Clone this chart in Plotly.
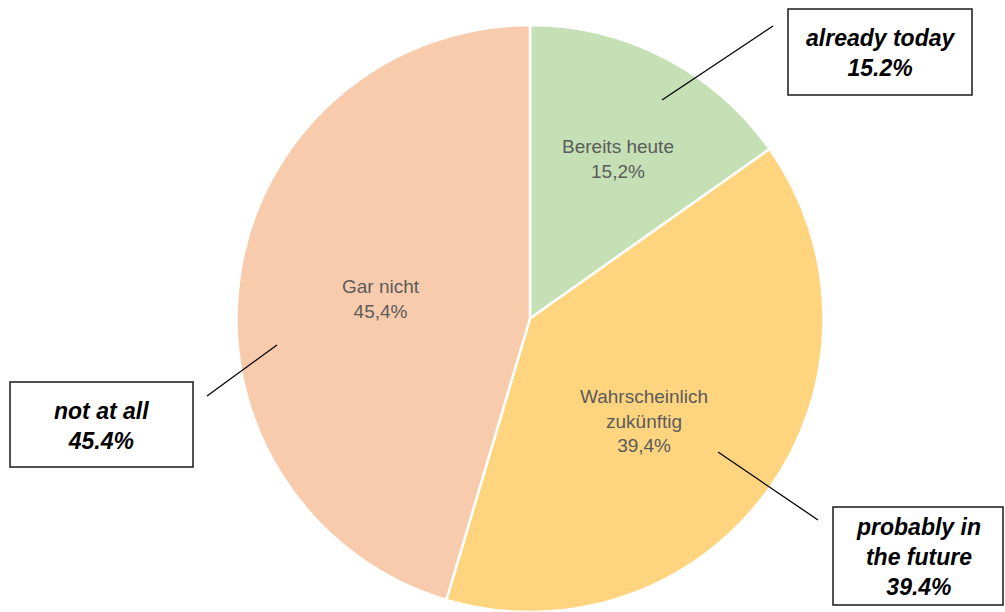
import plotly.graph_objects as go

# Survey shares (percent), clockwise from 12 o'clock
labels_de = ["Bereits heute", "Wahrscheinlich<br>zukünftig", "Gar nicht"]
labels_en = ["already today", "probably in<br>the future", "not at all"]
values = [15.2, 39.4, 45.4]
colors = ["#C5E0B4", "#FFD47E", "#F8CBAD"]

W, H = 1005, 612


def px(x):
    return x / W


def py(y):
    return 1 - y / H


fig = go.Figure()
fig.add_trace(go.Pie(
    labels=[l.replace("<br>", " ") for l in labels_de],
    values=values,
    sort=False,
    direction="clockwise",
    rotation=0,
    marker=dict(colors=colors, line=dict(color="white", width=2.5)),
    textinfo="none",
    hoverinfo="none",
    showlegend=False,
    domain=dict(x=[px(530 - 294), px(530 + 294)], y=[0, py(25)]),
))

# German labels inside the slices
inner_pos = [(618, 159), (644, 421), (381, 299)]
for lab, v, (x, y) in zip(labels_de, values, inner_pos):
    fig.add_annotation(
        x=px(x), y=py(y), xref="paper", yref="paper",
        text=f"{lab}<br>{v:.1f}%".replace(".", ","),
        showarrow=False, xanchor="center", yanchor="middle",
        font=dict(family="Arial, Liberation Sans, sans-serif", size=19, color="#5B5B5B"),
    )

# English callout boxes with leader lines
boxes = [(788, 9, 972, 95), (833, 507, 1003, 605), (10, 382, 193, 467)]
leaders = [((662, 100), (773, 26)), ((718, 452), (818, 520)), ((277, 345), (207, 396))]
shapes = []
for lab, v, (x0, y0, x1, y1), ((lx0, ly0), (lx1, ly1)) in zip(labels_en, values, boxes, leaders):
    shapes.append(dict(type="rect", xref="paper", yref="paper",
                       x0=px(x0), x1=px(x1), y0=py(y1), y1=py(y0),
                       line=dict(color="#1A1A1A", width=1.5), fillcolor="white"))
    shapes.append(dict(type="line", xref="paper", yref="paper",
                       x0=px(lx0), y0=py(ly0), x1=px(lx1), y1=py(ly1),
                       line=dict(color="black", width=1.3)))
    fig.add_annotation(
        x=px((x0 + x1) / 2), y=py((y0 + y1) / 2 + 1), xref="paper", yref="paper",
        text=f"<b><i>{lab}<br>{v:.1f}%</i></b>",
        showarrow=False, xanchor="center", yanchor="middle",
        font=dict(family="Arial, Liberation Sans, sans-serif", size=23, color="black"),
    )

fig.update_layout(
    width=W, height=H,
    margin=dict(l=0, r=0, t=0, b=0),
    paper_bgcolor="white", plot_bgcolor="white",
    shapes=shapes,
)

fig.write_html("out.html")
